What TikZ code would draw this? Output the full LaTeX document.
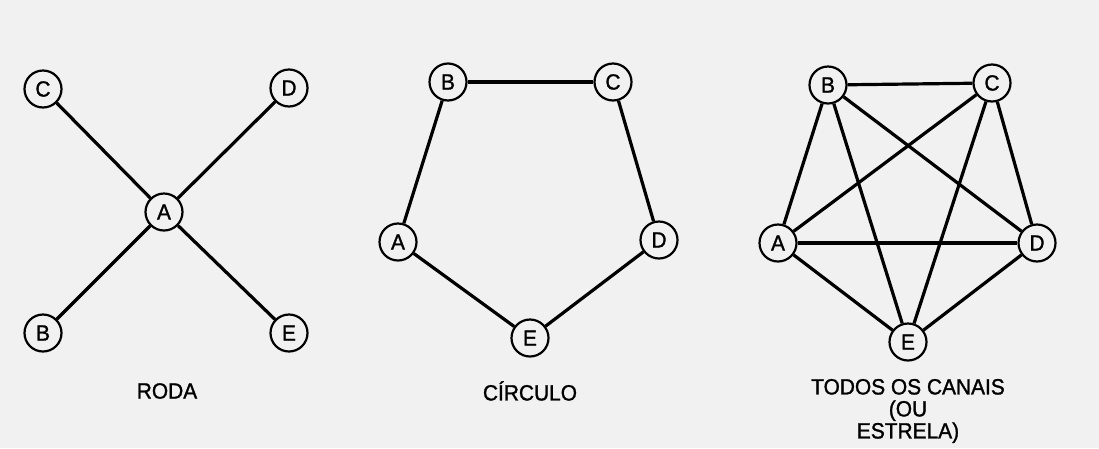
\documentclass[tikz,border=0pt]{standalone}
\usepackage{fontspec}
\setmainfont{Liberation Sans}[FakeBold=1.3, FakeStretch=0.95]
\usetikzlibrary{positioning}

\definecolor{papel}{RGB}{241,241,241}

\begin{document}
\begin{tikzpicture}[x=1pt, y=-1pt,
    membro/.style={draw, circle, line width=2.2pt, minimum size=37pt, inner sep=0pt, fill=papel, font=\fontsize{22}{22}\selectfont},
    canal/.style={line width=3.2pt},
    titulo/.style={align=center, font=\fontsize{22}{22}\selectfont}
]
\fill[papel] (0,0) rectangle (1099,448);
\useasboundingbox (0,0) rectangle (1099,448);

% roda
\node[membro] (rC) at (43,89) {C};
\node[membro] (rD) at (289,88) {D};
\node[membro] (rA) at (164,212) {A};
\node[membro] (rB) at (43,333) {B};
\node[membro] (rE) at (289,333) {E};
\draw[canal] (rC) -- (rA);
\draw[canal] (rD) -- (rA);
\draw[canal] (rB) -- (rA);
\draw[canal] (rE) -- (rA);
\node[titulo] (tRoda) at (167,391) {RODA};

% circulo
\node[membro] (cB) at (448,82) {B};
\node[membro] (cC) at (613,82) {C};
\node[membro] (cA) at (398,242) {A};
\node[membro] (cD) at (659,240) {D};
\node[membro] (cE) at (530,338) {E};
\draw[canal] (cA) -- (cB);
\draw[canal] (cB) -- (cC);
\draw[canal] (cC) -- (cD);
\draw[canal] (cD) -- (cE);
\draw[canal] (cE) -- (cA);
\node[titulo] (tCirc) at (530,391) {CÍRCULO};

% todos os canais
\node[membro] (sB) at (828,85) {B};
\node[membro] (sC) at (992,83) {C};
\node[membro] (sA) at (778,243) {A};
\node[membro] (sD) at (1037,243) {D};
\node[membro] (sE) at (908,342) {E};
\draw[canal] (sA) -- (sB);
\draw[canal] (sB) -- (sC);
\draw[canal] (sC) -- (sD);
\draw[canal] (sD) -- (sE);
\draw[canal] (sE) -- (sA);
\draw[canal] (sA) -- (sC);
\draw[canal] (sA) -- (sD);
\draw[canal] (sB) -- (sD);
\draw[canal] (sB) -- (sE);
\draw[canal] (sC) -- (sE);
\node[titulo] (tTodos) at (908,411) {TODOS OS CANAIS\\(OU\\ESTRELA)};
\end{tikzpicture}
\end{document}
